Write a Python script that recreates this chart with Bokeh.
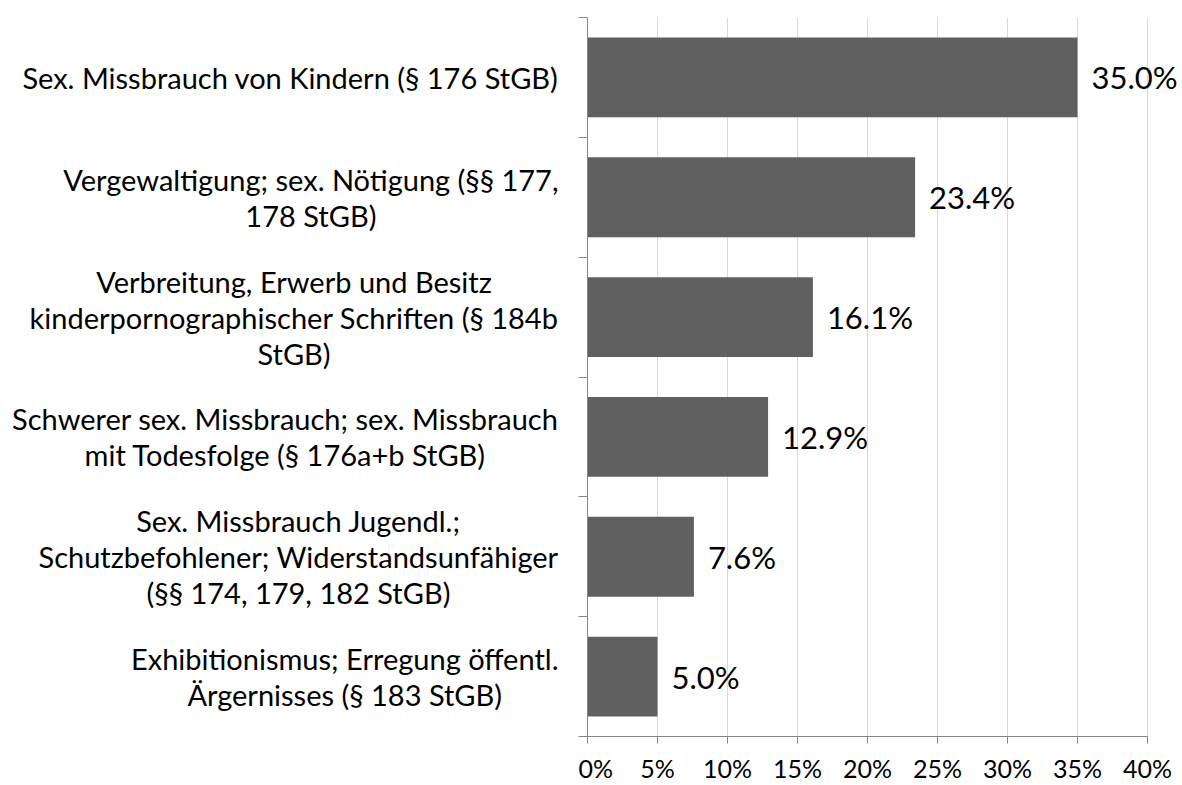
from bokeh.plotting import figure
from bokeh.layouts import row
from bokeh.models import (ColumnDataSource, FixedTicker, LabelSet, Range1d,
                          PrintfTickFormatter)
from bokeh.core.properties import value
from bokeh.embed import file_html
from bokeh.resources import INLINE

# ---- data ----
categories = [
    "Sex. Missbrauch von Kindern (§ 176 StGB)",
    "Vergewaltigung; sex. Nötigung (§§ 177,\n178 StGB)",
    "Verbreitung, Erwerb und Besitz\nkinderpornographischer Schriften (§ 184b\nStGB)",
    "Schwerer sex. Missbrauch; sex. Missbrauch\nmit Todesfolge (§ 176a+b StGB)",
    "Sex. Missbrauch Jugendl.;\nSchutzbefohlener; Widerstandsunfähiger\n(§§ 174, 179, 182 StGB)",
    "Exhibitionismus; Erregung öffentl.\nÄrgernisses (§ 183 StGB)",
]
values = [35.0, 23.4, 16.1, 12.9, 7.6, 5.0]
x_ticks = [0, 5, 10, 15, 20, 25, 30, 35, 40]

n = len(categories)
ypos = [n - 1 - i + 0.5 for i in range(n)]
labels = [f"{v:.1f}%" for v in values]

src = ColumnDataSource(dict(y=ypos, v=values, lab=labels, cat=categories))

FONT = "Lato"
TOP, BOTTOM = 17, 48
yr = Range1d(0, n)

# ---- left panel: category labels ----
LEFT_W = 578
lf = figure(width=LEFT_W, height=785, output_backend="svg", toolbar_location=None,
            x_range=Range1d(0, LEFT_W), y_range=yr,
            x_axis_type=None, y_axis_type=None,
            min_border_left=0, min_border_right=0,
            min_border_top=TOP, min_border_bottom=BOTTOM)
lf.outline_line_color = None
lf.grid.visible = False
lf.text(x=558, y="y", text="cat", source=src,
        anchor="center_right", text_align="center", text_baseline="middle",
        text_font=value(FONT), text_font_size="29px", text_color="#000000",
        text_line_height=1.03)

# ---- main panel: bars ----
p = figure(width=1182 - LEFT_W, height=785, output_backend="svg",
           toolbar_location=None,
           x_range=Range1d(0, 42.5), y_range=yr,
           min_border_left=9, min_border_right=0, min_border_top=TOP,
           min_border_bottom=BOTTOM)
p.outline_line_color = None
p.background_fill_color = "white"
p.border_fill_color = "white"

p.hbar(y="y", right="v", left=0, height=2 / 3, source=src,
       fill_color="#606060", line_color=None)

ls = LabelSet(x="v", y="y", text="lab", source=src, x_offset=14,
              text_align="left", text_baseline="middle",
              text_font=value(FONT), text_font_size="31px", text_color="#000000")
p.add_layout(ls)

# x axis
xa = p.xaxis[0]
xa.bounds = (0, 40)
xa.ticker = FixedTicker(ticks=x_ticks, minor_ticks=[])
xa.formatter = PrintfTickFormatter(format="%d%%")
xa.axis_line_color = "#868686"
xa.major_tick_line_color = "#868686"
xa.major_tick_out = 7
xa.major_tick_in = 0
xa.minor_tick_line_color = None
xa.major_label_text_font = FONT
xa.major_label_text_font_size = "25px"
xa.major_label_text_color = "#000000"
xa.major_label_standoff = 9

# y axis: line + boundary ticks only (labels drawn in left panel)
ya = p.yaxis[0]
ya.ticker = FixedTicker(ticks=ypos, minor_ticks=list(range(n + 1)))
ya.major_label_overrides = {y: "" for y in ypos}
ya.axis_line_color = "#868686"
ya.major_tick_line_color = None
ya.major_tick_out = 0
ya.major_tick_in = 0
ya.minor_tick_line_color = "#868686"
ya.minor_tick_out = 9
ya.minor_tick_in = 0
ya.major_label_standoff = 0
ya.major_label_text_font_size = "1px"

p.xgrid.grid_line_color = "#d9d9d9"
p.xgrid.ticker = FixedTicker(ticks=x_ticks)
p.ygrid.grid_line_color = None

layout = row(lf, p, spacing=0)
open("out.html", "w").write(file_html(layout, INLINE))
